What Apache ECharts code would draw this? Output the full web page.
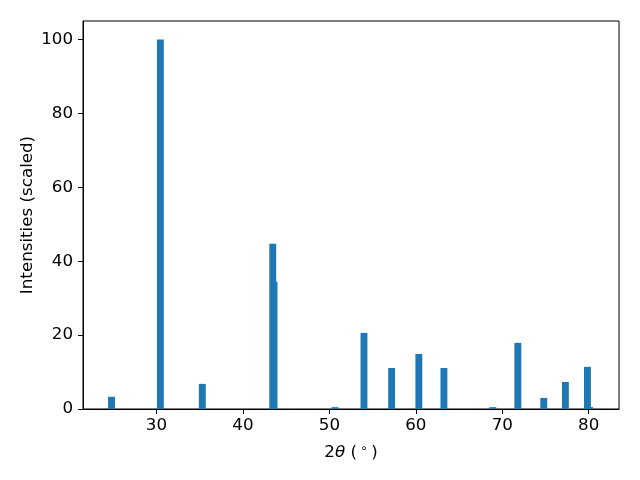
<!DOCTYPE html>
<html>
<head>
<meta charset="utf-8">
<script src="https://cdn.jsdelivr.net/npm/echarts@6/dist/echarts.min.js"></script>
<style>html,body{margin:0;padding:0;background:#fff}#c{width:640px;height:480px}</style>
</head>
<body>
<div id="c"></div>
<script>
const positions = [24.8, 30.45, 35.3, 43.45, 43.6, 50.65, 54.0, 57.2, 60.35, 63.25, 68.9, 71.8, 74.8, 77.3, 79.85, 80.1];
const intensities = [3.3, 100, 6.8, 44.7, 34.4, 0.5, 20.6, 11.1, 14.9, 11.1, 0.5, 17.9, 3.0, 7.3, 11.4, 0.5];
const xTicks = [30, 40, 50, 60, 70, 80];
const yTicks = [0, 20, 40, 60, 80, 100];

const data = positions.map((p, i) => [p, intensities[i]]);
const font = 'DejaVu Sans';
const fs = 16.7;
const chart = echarts.init(document.getElementById('c'), null, {renderer: 'canvas'});
chart.setOption({
  animation: false,
  grid: {left: 83, right: 21, top: 21, bottom: 71, show: true, borderColor: '#000', borderWidth: 1, backgroundColor: 'transparent'},
  xAxis: {
    type: 'value', min: 21.5, max: 83.5,
    axisLine: {show: true, lineStyle: {color: '#000', width: 1}},
    axisTick: {show: true, length: 5, lineStyle: {color: '#000'}, customValues: xTicks},
    axisLabel: {margin: 8, fontFamily: font, fontSize: fs, color: '#000', customValues: xTicks},
    splitLine: {show: false},
    name: '2{it|θ} (\u2009{sup|∘}\u2009)', nameLocation: 'middle', nameGap: 34, nameMoveOverlap: false,
    nameTextStyle: {fontFamily: font, fontSize: fs, color: '#000',
      rich: {it: {fontFamily: font, fontStyle: 'italic', fontSize: fs, color: '#000'},
             sup: {fontFamily: font, fontSize: 12, color: '#000', padding: [0, 0, 8, 0]}}}
  },
  yAxis: {
    type: 'value', min: 0, max: 105,
    axisLine: {show: true, lineStyle: {color: '#000', width: 1}},
    axisTick: {show: true, length: 5, lineStyle: {color: '#000'}, customValues: yTicks},
    axisLabel: {margin: 10, fontFamily: font, fontSize: fs, color: '#000', customValues: yTicks},
    splitLine: {show: false},
    name: 'Intensities (scaled)', nameLocation: 'middle', nameGap: 47, nameMoveOverlap: false,
    nameTextStyle: {fontFamily: font, fontSize: fs, color: '#000'}
  },
  series: [{
    type: 'custom',
    data: data,
    renderItem: function (params, api) {
      const x = api.value(0), y = api.value(1);
      const p0 = api.coord([x - 0.4, y]);
      const p1 = api.coord([x + 0.4, 0]);
      return {type: 'rect', shape: {x: p0[0], y: p0[1], width: p1[0] - p0[0], height: p1[1] - p0[1]}, style: {fill: '#1f77b4'}};
    }
  }]
});
</script>
</body>
</html>
